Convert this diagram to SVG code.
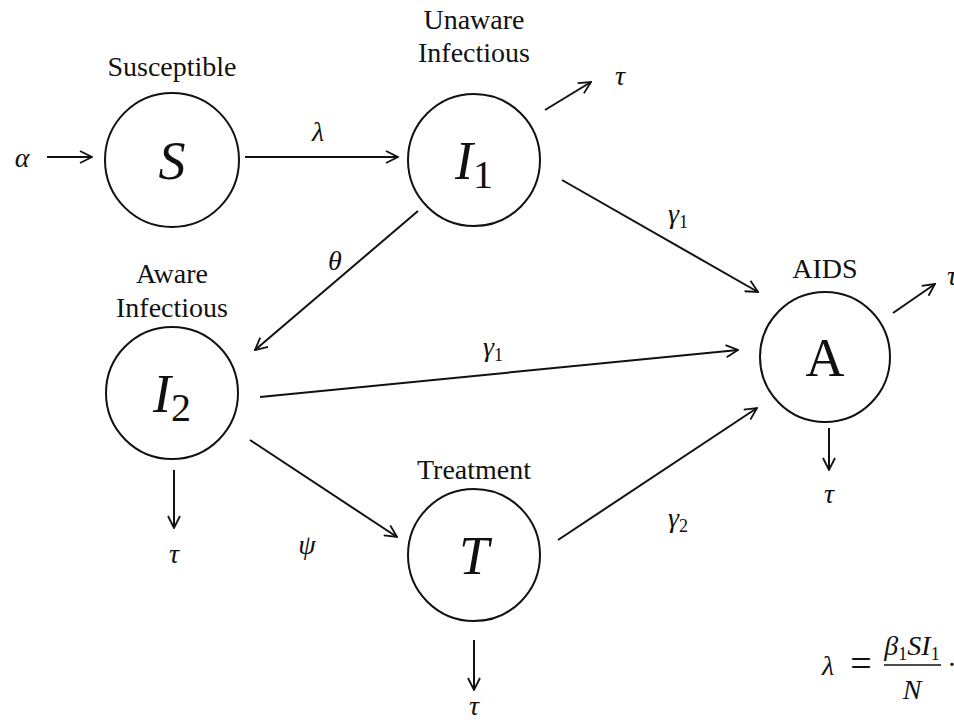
<svg xmlns="http://www.w3.org/2000/svg" width="954" height="720" viewBox="0 0 954 720">
<defs>
<marker id="ah" viewBox="0 0 14 14" refX="13" refY="7" markerWidth="14" markerHeight="14" markerUnits="userSpaceOnUse" orient="auto">
<path d="M1,1 L13,7 L1,13" fill="none" stroke="#111" stroke-width="1.8"/>
</marker>
</defs>
<style>
.n{fill:#fff;stroke:#111;stroke-width:2}
.lbl{font-family:"Liberation Serif",serif;font-size:28px;fill:#111;text-anchor:middle}
.big{font-family:"Liberation Serif",serif;font-style:italic;font-size:54px;fill:#111;text-anchor:middle}
.bsub{font-style:normal;font-size:40px}
.m{font-family:"Liberation Serif",serif;font-style:italic;font-size:28px;fill:#111;text-anchor:middle}
.sub{font-family:"Liberation Serif",serif;font-style:normal;font-size:18px;fill:#111}
.c{stroke:#111;stroke-width:2;fill:none;marker-end:url(#ah)}
</style>
<rect width="954" height="720" fill="#fff"/>
<g id="connectors">
<path class="c" d="M47,157 L92,157"/>
<path class="c" d="M245,157 L398,157"/>
<path class="c" d="M545,110 L591,82"/>
<path class="c" d="M562,180 L758,292"/>
<path class="c" d="M418,211 L255,350"/>
<path class="c" d="M260,397 L738,350"/>
<path class="c" d="M250,440 L397,537"/>
<path class="c" d="M174,470 L174,528"/>
<path class="c" d="M558,540 L757,408"/>
<path class="c" d="M474,640 L474,690"/>
<path class="c" d="M893,313 L935,284"/>
<path class="c" d="M829,428 L829,470"/>
</g>
<g id="edge-labels">
<text class="m" x="22" y="167">α</text>
<text class="m" x="318" y="141">λ</text>
<text class="m" x="620" y="85">τ</text>
<text class="m" x="678" y="223">γ<tspan class="sub" dy="5">1</tspan></text>
<text class="m" x="335" y="270">θ</text>
<text class="m" x="493" y="356">γ<tspan class="sub" dy="5">1</tspan></text>
<text class="m" x="307" y="554">ψ</text>
<text class="m" x="174" y="563">τ</text>
<text class="m" x="678" y="527">γ<tspan class="sub" dy="5">2</tspan></text>
<text class="m" x="474" y="715">τ</text>
<text class="m" x="952" y="285">τ</text>
<text class="m" x="829" y="503">τ</text>
</g>
<g id="S">
<circle class="n" cx="172" cy="160" r="67"/>
<text class="lbl" x="172" y="76">Susceptible</text>
<text class="big" x="172" y="179">S</text>
</g>
<g id="I1">
<circle class="n" cx="474" cy="160" r="66"/>
<text class="lbl" x="474" y="29">Unaware</text>
<text class="lbl" x="474" y="62">Infectious</text>
<text class="big" x="474" y="179">I<tspan class="bsub" dy="9">1</tspan></text>
</g>
<g id="I2">
<circle class="n" cx="172" cy="393" r="66"/>
<text class="lbl" x="172" y="283">Aware</text>
<text class="lbl" x="172" y="317">Infectious</text>
<text class="big" x="172" y="412">I<tspan class="bsub" dy="9">2</tspan></text>
</g>
<g id="T">
<circle class="n" cx="474" cy="555" r="66"/>
<text class="lbl" x="474" y="479">Treatment</text>
<text class="big" x="474" y="574">T</text>
</g>
<g id="A">
<circle class="n" cx="825" cy="357" r="65"/>
<text class="lbl" x="825" y="278">AIDS</text>
<text class="big" x="825" y="376" style="font-style:normal">A</text>
</g>
<g id="formula">
<text class="m" x="828" y="675">λ</text>
<text class="m" x="861" y="676" style="font-style:normal;font-size:38px">=</text>
<text class="m" x="912" y="655">β<tspan class="sub" dy="5">1</tspan><tspan dy="-5">SI</tspan><tspan class="sub" dy="5">1</tspan></text>
<line x1="884" y1="665" x2="941" y2="665" stroke="#111" stroke-width="1.5"/>
<text class="m" x="912" y="699">N</text>
<text class="m" x="952" y="674" style="font-style:normal">·</text>
</g>
</svg>
